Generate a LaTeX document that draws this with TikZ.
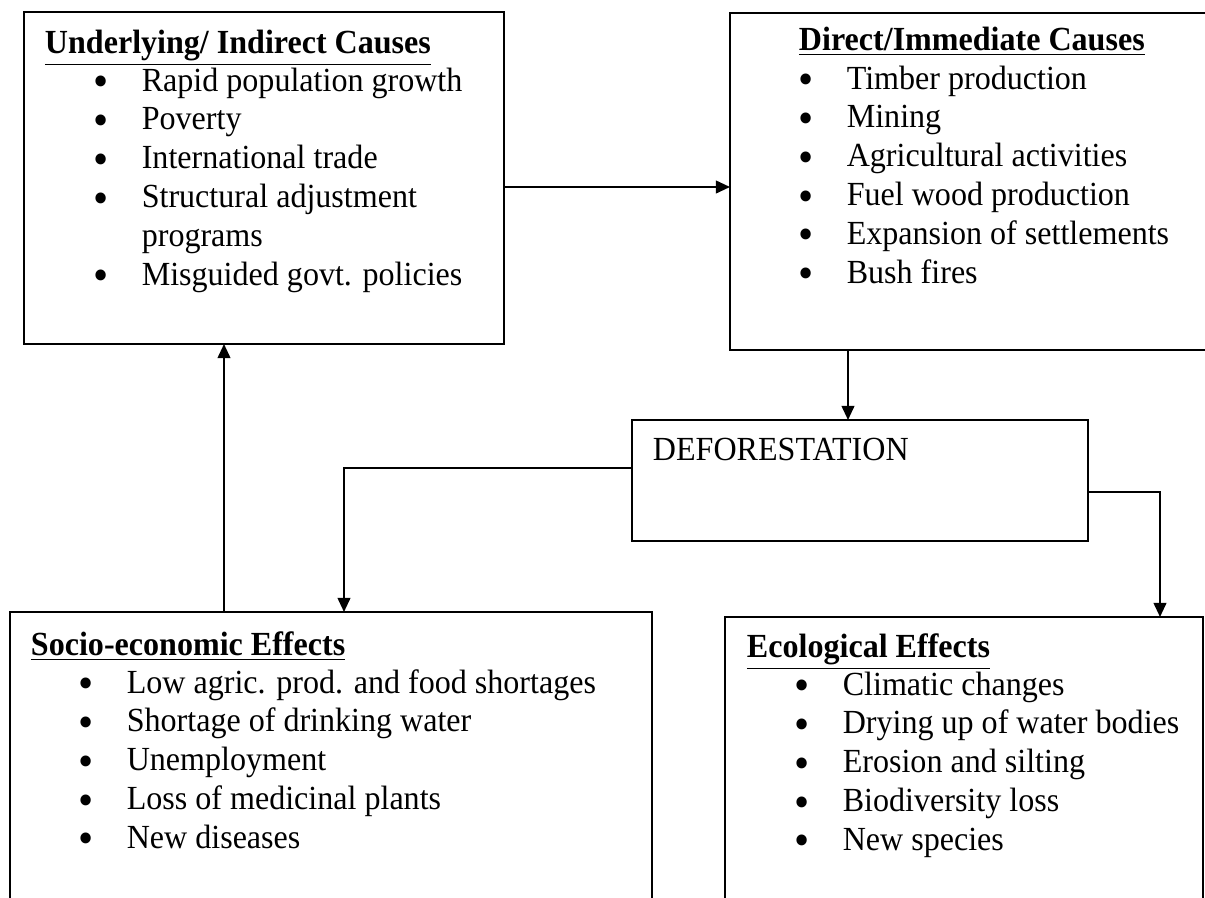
\documentclass[tikz,border=0pt]{standalone}
\usepackage{fontspec}
\usepackage{graphicx}
\setmainfont{Liberation Serif}[FakeStretch=0.95]
\usetikzlibrary{arrows.meta, positioning}
\newcommand{\bul}{\smash{\raisebox{-2pt}{\scalebox{1.35}{\textbullet}}}}

\begin{document}
\begin{tikzpicture}[>={Triangle[length=5pt,width=4.5pt]}, x=0.0125cm, y=-0.0125cm, line width=0.7pt, font=\fontsize{12}{13.8}\selectfont]
    \tikzstyle{box} = [draw, rectangle, anchor=north west, inner sep=0pt, outer sep=0pt]
    \tikzstyle{head} = [anchor=base west, inner sep=0pt, font=\fontsize{12}{13.8}\selectfont\bfseries]
    \tikzstyle{items} = [anchor=base west, inner sep=0pt]
    \useasboundingbox (0,0) rectangle (1205,898);

    % Underlying causes
    \node[box, minimum width=480*0.0125cm, minimum height=332*0.0125cm] (under) at (24,12) {};
    \node[head] (underhead) at (44,53) {\underline{Underlying/ Indirect Causes}};
    \node[items] (underlist) at (93,91) {\begin{tabular}[t]{@{}p{17pt}@{}l@{}}
        \bul & Rapid population growth\\
        \bul & Poverty\\
        \bul & International trade\\
        \bul & Structural adjustment\\
             & programs\\
        \bul & Misguided govt. policies
    \end{tabular}};

    % Direct causes
    \node[box, minimum width=476*0.0125cm, minimum height=337*0.0125cm] (direct) at (730,13) {};
    \node[head] (directhead) at (798,50) {\underline{Direct/Immediate Causes}};
    \node[items] (directlist) at (798,89) {\begin{tabular}[t]{@{}p{17pt}@{}l@{}}
        \bul & Timber production\\
        \bul & Mining\\
        \bul & Agricultural activities\\
        \bul & Fuel wood production\\
        \bul & Expansion of settlements\\
        \bul & Bush fires
    \end{tabular}};

    % Deforestation
    \node[box, minimum width=456*0.0125cm, minimum height=121*0.0125cm] (defor) at (632,420) {};
    \node[items] (defortext) at (652,460) {DEFORESTATION};

    % Socio-economic effects
    \node[box, minimum width=642*0.0125cm, minimum height=313*0.0125cm] (socio) at (10,612) {};
    \node[head] (sociohead) at (30,655) {\underline{Socio-economic Effects}};
    \node[items] (sociolist) at (78,693) {\begin{tabular}[t]{@{}p{17pt}@{}l@{}}
        \bul & Low agric. prod. and food shortages\\
        \bul & Shortage of drinking water\\
        \bul & Unemployment\\
        \bul & Loss of medicinal plants\\
        \bul & New diseases
    \end{tabular}};

    % Ecological effects
    \node[box, minimum width=478*0.0125cm, minimum height=308*0.0125cm] (eco) at (725,617) {};
    \node[head] (ecohead) at (746,657) {\underline{Ecological Effects}};
    \node[items] (ecolist) at (794,695) {\begin{tabular}[t]{@{}p{17pt}@{}l@{}}
        \bul & Climatic changes\\
        \bul & Drying up of water bodies\\
        \bul & Erosion and silting\\
        \bul & Biodiversity loss\\
        \bul & New species
    \end{tabular}};

    % Connectors
    \coordinate (rowud) at (0,187);
    \coordinate (colmid) at (848,0);
    \coordinate (colup) at (224,0);
    \coordinate (bendL) at (344,468);
    \coordinate (bendR) at (1160,492);
    \draw[->] (under.east |- rowud) -- (direct.west |- rowud);
    \draw[->] (direct.south -| colmid) -- (defor.north -| colmid);
    \draw[->] (defor.west |- bendL) -- (bendL) -- (socio.north -| bendL);
    \draw[->] (defor.east |- bendR) -- (bendR) -- (eco.north -| bendR);
    \draw[->] (socio.north -| colup) -- (under.south -| colup);
\end{tikzpicture}
\end{document}
